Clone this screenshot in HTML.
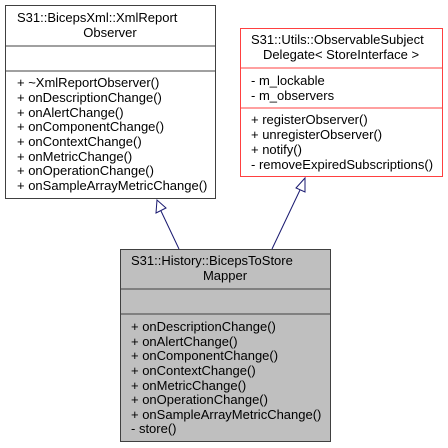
<!DOCTYPE html>
<html><head><meta charset="utf-8"><style>
html,body{margin:0;padding:0;background:#fff;}
svg{display:block;}
text{font-family:"Liberation Sans",sans-serif;font-size:13px;fill:#000;}
</style></head><body>
<svg width="448" height="448" viewBox="0 0 448 448">
<!-- left box -->
<rect x="5.5" y="5.5" width="210" height="193" fill="#fff" stroke="#404040" stroke-width="1"/>
<line x1="5" y1="46" x2="216" y2="46" stroke="#404040"/>
<line x1="5" y1="71" x2="216" y2="71" stroke="#404040"/>
<text x="17" y="22">S31::BicepsXml::XmlReport</text>
<text x="110" y="37" text-anchor="middle">Observer</text>
<text x="17" y="87">+ ~XmlReportObserver()</text>
<text x="17" y="102">+ onDescriptionChange()</text>
<text x="17" y="117">+ onAlertChange()</text>
<text x="17" y="131">+ onComponentChange()</text>
<text x="17" y="146">+ onContextChange()</text>
<text x="17" y="161">+ onMetricChange()</text>
<text x="17" y="175">+ onOperationChange()</text>
<text x="17" y="190">+ onSampleArrayMetricChange()</text>
<!-- right box -->
<rect x="240.5" y="28.5" width="202" height="148" fill="#fff" stroke="#ff4040" stroke-width="1"/>
<line x1="240" y1="68" x2="443" y2="68" stroke="#ff4040"/>
<line x1="240" y1="108" x2="443" y2="108" stroke="#ff4040"/>
<text x="251" y="44">S31::Utils::ObservableSubject</text>
<text x="341" y="59" text-anchor="middle">Delegate&lt; StoreInterface &gt;</text>
<text x="251" y="85">- m_lockable</text>
<text x="251" y="100">- m_observers</text>
<text x="251" y="124">+ registerObserver()</text>
<text x="251" y="139">+ unregisterObserver()</text>
<text x="251" y="154">+ notify()</text>
<text x="251" y="169">- removeExpiredSubscriptions()</text>
<!-- bottom box -->
<rect x="120.5" y="249.5" width="210" height="192" fill="#bfbfbf" stroke="#404040" stroke-width="1"/>
<line x1="120" y1="289" x2="331" y2="289" stroke="#404040"/>
<line x1="120" y1="314" x2="331" y2="314" stroke="#404040"/>
<text x="131" y="265">S31::History::BicepsToStore</text>
<text x="225" y="280" text-anchor="middle">Mapper</text>
<text x="131" y="331">+ onDescriptionChange()</text>
<text x="131" y="346">+ onAlertChange()</text>
<text x="131" y="360">+ onComponentChange()</text>
<text x="131" y="375">+ onContextChange()</text>
<text x="131" y="390">+ onMetricChange()</text>
<text x="131" y="404">+ onOperationChange()</text>
<text x="131" y="419">+ onSampleArrayMetricChange()</text>
<text x="131" y="433">- store()</text>
<!-- arrows -->
<line x1="179" y1="249" x2="161" y2="211" stroke="#191970" stroke-width="1"/>
<polygon points="157,200 156,213 166,208" fill="#fff" stroke="#191970" stroke-width="1"/>
<line x1="272" y1="249" x2="300" y2="190" stroke="#191970" stroke-width="1"/>
<polygon points="305,178 296,188 305,192" fill="#fff" stroke="#191970" stroke-width="1"/>
</svg>
</body></html>
